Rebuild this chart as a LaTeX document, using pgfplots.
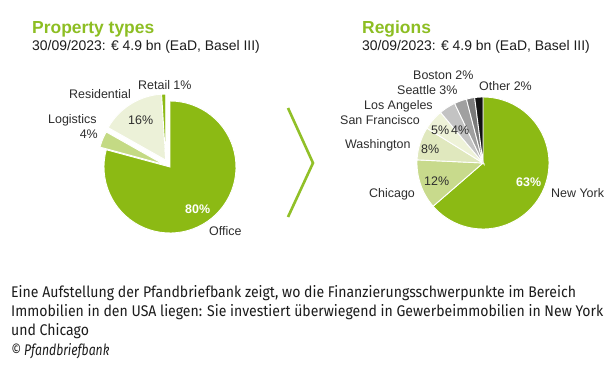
\documentclass[border=0pt]{standalone}
\usepackage{pgfplots}
\pgfplotsset{compat=1.18}
\usepackage{fontspec}
\setmainfont{Liberation Sans}
\newfontfamily\capfont[FakeStretch=0.91]{Fira Sans}
\newfontfamily\capfontit[FakeStretch=0.79]{Fira Sans}
\definecolor{pgreen}{RGB}{140,186,20}
\definecolor{tgreen}{RGB}{141,190,35}
\definecolor{chev}{RGB}{145,192,40}
\definecolor{cream}{RGB}{236,241,216}
\definecolor{lgreen}{RGB}{196,218,132}
\definecolor{chi}{RGB}{200,218,140}
\definecolor{wash}{RGB}{224,232,190}
\definecolor{sanf}{RGB}{238,242,216}
\definecolor{lagray}{RGB}{195,195,195}
\definecolor{seagray}{RGB}{160,160,160}
\definecolor{bosgray}{RGB}{122,122,122}
\definecolor{othblk}{RGB}{18,18,18}
\definecolor{lbl}{RGB}{45,45,45}
\definecolor{captxt}{RGB}{28,28,28}

% #1 cumulative start, #2 value, #3 total, #4 colour, #5 dx, #6 dy
\newcommand{\slice}[6]{%
  \pgfmathsetmacro\aS{90-(360/(#3))*(#1)}%
  \pgfmathsetmacro\aE{90-(360/(#3))*(#1+#2)}%
  \edef\doit{\noexpand\addplot[fill=#4, draw=white, line width=0.9bp, domain=\aE:\aS, samples=60, variable=\noexpand\t]
    ({#5+cos(\noexpand\t)},{#6+sin(\noexpand\t)}) -- (axis cs:#5,#6) -- cycle;}%
  \doit
}

\begin{document}
\begin{tikzpicture}
\useasboundingbox (0,0) rectangle (613bp,-371bp);
\fill[white] (0,0) rectangle (613bp,-371bp);

% ---------- titles ----------
\node[anchor=base west, inner sep=0, text=tgreen, font=\fontsize{17.5}{20}\selectfont\bfseries] at (32bp,-33bp) {Property types};
\node[anchor=base west, inner sep=0, text=captxt, font=\fontsize{14}{16}\selectfont] at (32bp,-50.5bp) {30/09/2023: € 4.9 bn (EaD, Basel III)};
\node[anchor=base west, inner sep=0, text=tgreen, font=\fontsize{17.5}{20}\selectfont\bfseries] at (362bp,-33bp) {Regions};
\node[anchor=base west, inner sep=0, text=captxt, font=\fontsize{14}{16}\selectfont] at (362bp,-50.5bp) {30/09/2023: € 4.9 bn (EaD, Basel III)};

% ---------- left pie: property types ----------
\begin{axis}[at={(170bp,-167bp)}, anchor=center, x=66bp, y=66bp, hide axis,
  xmin=-1.3, xmax=1.3, ymin=-1.3, ymax=1.3, clip=false]
\slice{0}{80}{101}{pgreen}{0}{0}
\slice{80}{4}{101}{lgreen}{-0.095}{0.04}
\slice{84}{16}{101}{cream}{-0.065}{0.105}
\slice{100}{1}{101}{pgreen}{-0.065}{0.105}
\end{axis}

% ---------- right pie: regions ----------
\begin{axis}[at={(483bp,-163bp)}, anchor=center, x=66bp, y=66bp, hide axis,
  xmin=-1.3, xmax=1.3, ymin=-1.3, ymax=1.3, clip=false]
\slice{0}{63}{99}{pgreen}{0}{0}
\slice{63}{12}{99}{chi}{0}{0}
\slice{75}{8}{99}{wash}{0}{0}
\slice{83}{5}{99}{sanf}{0}{0}
\slice{88}{4}{99}{lagray}{0}{0}
\slice{92}{3}{99}{seagray}{0}{0}
\slice{95}{2}{99}{bosgray}{0}{0}
\slice{97}{2}{99}{othblk}{0}{0}
\end{axis}

% ---------- chevron ----------
\draw[chev, line width=2.6bp, line join=miter] (288bp,-108bp) -- (313bp,-163bp) -- (288bp,-217bp);

% ---------- left labels ----------
\begin{scope}[every node/.style={inner sep=0, text=lbl, font=\fontsize{12.5}{14}\selectfont}]
\node[anchor=base west] at (138bp,-89bp) {Retail 1\%};
\node[anchor=base west] at (69bp,-98bp) {Residential};
\node[anchor=base west] at (48bp,-123bp) {Logistics};
\node[anchor=base east] at (98bp,-138bp) {4\%};
\node[anchor=base west] at (128bp,-124bp) {16\%};
\node[anchor=base west, text=white, font=\fontsize{12.5}{14}\selectfont\bfseries] at (185bp,-213bp) {80\%};
\node[anchor=base west] at (209bp,-235bp) {Office};
% ---------- right labels ----------
\node[anchor=base west] at (413bp,-79bp) {Boston 2\%};
\node[anchor=base west] at (397bp,-94bp) {Seattle 3\%};
\node[anchor=base west] at (479bp,-90bp) {Other 2\%};
\node[anchor=base west] at (364bp,-109bp) {Los Angeles};
\node[anchor=base west] at (340bp,-124bp) {San Francisco};
\node[anchor=base west] at (431bp,-134bp) {5\%};
\node[anchor=base west] at (451bp,-134bp) {4\%};
\node[anchor=base west] at (345bp,-148bp) {Washington};
\node[anchor=base west] at (421bp,-153bp) {8\%};
\node[anchor=base west] at (424bp,-185bp) {12\%};
\node[anchor=base west] at (369bp,-197bp) {Chicago};
\node[anchor=base west, text=white, font=\fontsize{12.5}{14}\selectfont\bfseries] at (516bp,-186bp) {63\%};
\node[anchor=base west] at (551bp,-197bp) {New York};
\end{scope}

% ---------- caption ----------
\begin{scope}[every node/.style={inner sep=0, anchor=base west, text=captxt, font=\capfont\fontsize{15.5}{18}\selectfont}]
\node at (11bp,-297bp) {Eine Aufstellung der Pfandbriefbank zeigt, wo die Finanzierungsschwerpunkte im Bereich};
\node at (11bp,-316bp) {Immobilien in den USA liegen: Sie investiert überwiegend in Gewerbeimmobilien in New York};
\node at (11bp,-335bp) {und Chicago};
\node[font=\capfontit\fontsize{15.5}{18}\selectfont\itshape] at (11bp,-355bp) {© Pfandbriefbank};
\end{scope}
\end{tikzpicture}
\end{document}
